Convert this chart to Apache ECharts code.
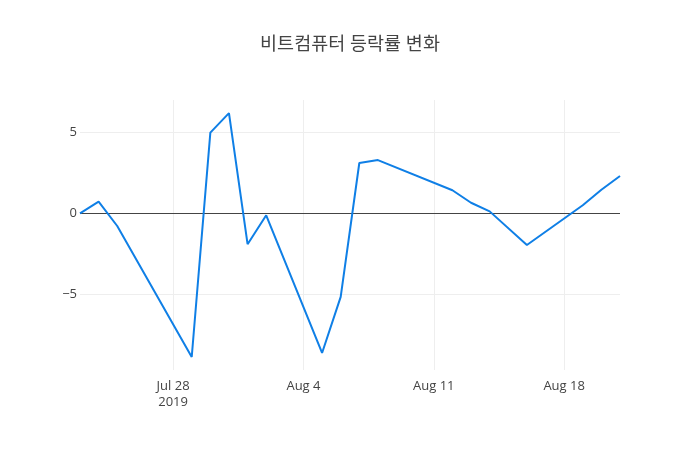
<!DOCTYPE html>
<html>
<head>
<meta charset="utf-8">
<script src="https://cdn.jsdelivr.net/npm/echarts@6/dist/echarts.min.js"></script>
<style>
html,body{margin:0;padding:0;background:#fff;}
#chart{width:700px;height:450px;}
</style>
</head>
<body>
<div id="chart"></div>
<script>
var dates = ['2019-07-23','2019-07-24','2019-07-25','2019-07-29','2019-07-30','2019-07-31','2019-08-01','2019-08-02','2019-08-05','2019-08-06','2019-08-07','2019-08-08','2019-08-12','2019-08-13','2019-08-14','2019-08-16','2019-08-19','2019-08-20','2019-08-21'];
var changes = [0.0, 0.72, -0.78, -8.85, 4.97, 6.17, -1.9, -0.12, -8.6, -5.15, 3.1, 3.28, 1.42, 0.65, 0.12, -1.95, 0.5, 1.45, 2.3];
var xTicks = ['2019-07-28','2019-08-04','2019-08-11','2019-08-18'];
var xTickLabels = ['Jul 28\n2019','Aug 4','Aug 11','Aug 18'];
var yTicks = [-5, 0, 5];
var yTickLabels = ['\u22125','0','5'];
var titleText = '비트컴퓨터 등락률 변화';

function ts(s){ return new Date(s + 'T00:00:00Z').getTime(); }
var xTickTs = xTicks.map(ts);
var seriesData = dates.map(function(d,i){ return [ts(d), changes[i]]; });

var chart = echarts.init(document.getElementById('chart'), null, {renderer:'canvas'});
var font = '"Open Sans", "Noto Sans CJK KR", sans-serif';
chart.setOption({
  animation: false,
  backgroundColor: '#fff',
  title: {
    text: titleText,
    left: 'center',
    top: 30,
    textStyle: {fontFamily: font, fontSize: 18.5, fontWeight: 'normal', color: '#444'}
  },
  grid: {left: 80, right: 80, top: 100, bottom: 80, containLabel: false},
  xAxis: {
    type: 'value',
    min: ts(dates[0]),
    max: ts(dates[dates.length-1]),
    axisLine: {show: false},
    axisTick: {show: false, customValues: xTickTs},
    axisLabel: {
      customValues: xTickTs,
      margin: 8,
      color: '#444',
      fontFamily: font,
      fontSize: 13,
      lineHeight: 16,
      formatter: function(v){
        var i = xTickTs.indexOf(v);
        return i >= 0 ? xTickLabels[i] : '';
      }
    },
    splitLine: {show: true, lineStyle: {color: '#eeeeee', width: 1}}
  },
  yAxis: {
    type: 'value',
    min: -9.65,
    max: 6.98,
    axisLine: {show: false},
    axisTick: {show: false, customValues: yTicks},
    axisLabel: {
      customValues: yTicks,
      margin: 3,
      color: '#444',
      fontFamily: font,
      fontSize: 13,
      formatter: function(v){
        var i = yTicks.indexOf(v);
        return i >= 0 ? yTickLabels[i] : '';
      }
    },
    splitLine: {show: true, lineStyle: {color: '#eeeeee', width: 1}}
  },
  series: [{
    type: 'line',
    data: seriesData,
    showSymbol: false,
    symbol: 'none',
    lineStyle: {color: '#0f7fe6', width: 2},
    z: 3,
    markLine: {
      silent: true,
      symbol: 'none',
      label: {show: false},
      lineStyle: {color: '#444', width: 1, type: 'solid'},
      data: [{yAxis: 0}],
      z: 2
    }
  }]
});
</script>
</body>
</html>
